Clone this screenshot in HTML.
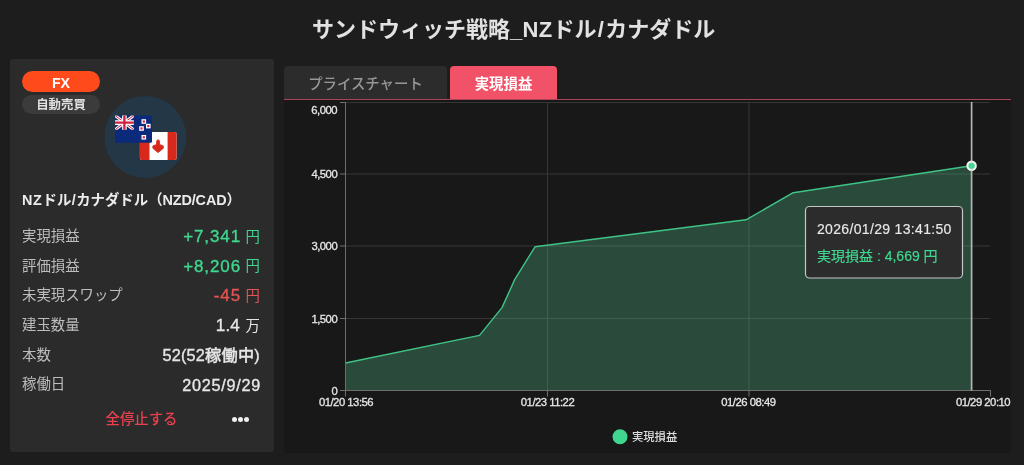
<!DOCTYPE html>
<html lang="ja">
<head>
<meta charset="utf-8">
<title>サンドウィッチ戦略_NZドル/カナダドル</title>
<style>
*{box-sizing:border-box;margin:0;padding:0}
html,body{width:1024px;height:465px;overflow:hidden;background:#1d1d1d}
body{position:relative;font-family:"Liberation Sans","Noto Sans CJK JP",sans-serif;color:#e0e0e0}
.abs{position:absolute;white-space:nowrap}
h1{position:absolute;left:312px;top:12px;white-space:nowrap;font-size:22px;line-height:36px;font-weight:700;color:#e2e2e2}
h1 span{letter-spacing:.3px}h1 span.s{padding:0 1.2px}
.cardbg{position:absolute;left:9.6px;top:58.6px;width:264.3px;height:393.6px;background:#2b2b2b;border-radius:3px}
.card{position:absolute;left:10px;top:59px;width:264px;height:393px}
.pill{position:absolute;left:12px;width:78px;border-radius:11px;text-align:center;font-weight:700;color:#fff}
.pill.fx{top:12px;height:21px;background:#ff4b1c;font-size:14.2px;line-height:24px}
.pill.auto{top:36px;height:19px;background:#3b3b3b;font-size:12.4px;line-height:21px;color:#e0e0e0}
.name{position:absolute;left:12px;top:131px;font-size:14.4px;line-height:20px;font-weight:700;color:#ececec;white-space:nowrap}
.row{position:absolute;left:12px;width:240px;height:29px}
.row .l{position:absolute;left:0;top:0;font-size:14.4px;line-height:29px;color:#bdbdbd;white-space:nowrap}
.row .v{position:absolute;right:2px;top:.5px;font-size:16.2px;line-height:29px;font-weight:500;color:#e6e6e6;white-space:nowrap;-webkit-text-stroke:.35px currentColor;letter-spacing:.25px}
.row .v b{font-size:17px;font-weight:500;letter-spacing:.9px;position:relative;top:-.5px}
.row .v i{font-style:normal;font-size:14.4px;font-weight:400;margin-left:4.6px;-webkit-text-stroke:0;letter-spacing:0;position:relative;top:-1px}
.g{color:#3fd78f!important}.r{color:#e25555!important}
.stop{position:absolute;left:95.5px;top:347.5px;font-size:14.4px;line-height:24px;font-weight:500;color:#e8404f;white-space:nowrap}
.dots{position:absolute;left:221.5px;top:357.5px;width:18px;height:5px}
.dots span{position:absolute;top:0;width:5px;height:5px;border-radius:50%;background:#f0f0f0}
.tab{position:absolute;top:65.5px;height:33.5px;border-radius:4px 4px 0 0;text-align:center;font-size:14.4px;line-height:36px}
.tab.t1{left:284px;width:163px;background:#2c2c2c;color:#979797;font-weight:500}
.tab.t2{left:450px;width:107px;background:#f25268;color:#fff;font-weight:700}
.tabline{position:absolute;left:284px;top:98.5px;width:727px;height:1.9px;background:#aa4556}
.chart{position:absolute;left:284px;top:100px;width:727px;height:352.5px;background:#181818}
svg{position:absolute;left:0;top:0}
svg text{font-family:"Liberation Sans","Noto Sans CJK JP",sans-serif}
</style>
</head>
<body>
<h1>サンドウィッチ戦略<span>_NZ</span>ドル<span class="s">/</span>カナダドル</h1>

<div class="cardbg"></div>
<div class="card">
  <div class="pill fx">FX</div>
  <div class="pill auto">自動売買</div>
  <div class="name"><span style="letter-spacing:.7px">NZ</span>ドル<span style="padding:0 .4px">/</span>カナダドル（<span style="letter-spacing:-.12px">NZD/CAD</span>）</div>
  <div class="row" style="top:163.4px"><span class="l">実現損益</span><span class="v g"><b>+7,341</b><i>円</i></span></div>
  <div class="row" style="top:192.8px"><span class="l">評価損益</span><span class="v g"><b>+8,206</b><i>円</i></span></div>
  <div class="row" style="top:222.2px"><span class="l">未実現スワップ</span><span class="v r"><b>-45</b><i>円</i></span></div>
  <div class="row" style="top:252px"><span class="l">建玉数量</span><span class="v"><b style="letter-spacing:.2px">1.4</b><i style="margin-left:5.6px">万</i></span></div>
  <div class="row" style="top:281.5px"><span class="l">本数</span><span class="v" style="top:.5px">52(52稼働中)</span></div>
  <div class="row" style="top:311px"><span class="l">稼働日</span><span class="v" style="top:.8px;letter-spacing:.75px;right:1px">2025/9/29</span></div>
  <div class="stop">全停止する</div>
  <div class="dots"><span style="left:0"></span><span style="left:6.25px"></span><span style="left:12.5px"></span></div>
</div>

<div class="tab t1">プライスチャート</div>
<div class="tab t2">実現損益</div>
<div class="chart"></div>
<div class="tabline"></div>

<svg width="1024" height="465" viewBox="0 0 1024 465">
  <!-- flags -->
  <circle cx="145.3" cy="137" r="41" fill="#233746"/>
  <g id="ca" transform="translate(.4 .3)">
    <rect x="139.5" y="131.6" width="36.7" height="28" rx="2" fill="#fff"/>
    <path d="M141.5 131.6h7.6v28h-7.6a2 2 0 0 1-2-2v-24a2 2 0 0 1 2-2z" fill="#d9291c"/>
    <path d="M167.2 131.6h7a2 2 0 0 1 2 2v24a2 2 0 0 1-2 2h-7z" fill="#d9291c"/>
    <path d="M157.7 139.6c.9 0 1.5.7 1.500 1.700v3l3.700 1.300v2.400l-5.200 4.300l-5.200-4.300v-2.400l3.700-1.300v-3c0-1 .6-1.700 1.500-1.700z" fill="#d9291c" stroke="#d9291c" stroke-width=".9" stroke-linejoin="round"/>
  </g>
  <g id="nz">
    <clipPath id="uj"><rect x="115" y="115.4" width="18.8" height="14.4"/></clipPath>
    <rect x="115" y="115.4" width="37" height="27.4" rx="1.5" fill="#0b2a7c"/>
    <g clip-path="url(#uj)">
      <path d="M115 115.4l18.8 14.4M133.8 115.4l-18.8 14.4" stroke="#fff" stroke-width="3"/>
      <path d="M115 115.4l18.8 14.4M133.8 115.4l-18.8 14.4" stroke="#d2203f" stroke-width="1"/>
      <path d="M124.4 115v15M115 122.6h19" stroke="#fff" stroke-width="4.6"/>
      <path d="M124.4 115v15M115 122.6h19" stroke="#d2203f" stroke-width="2.4"/>
    </g>
    <g fill="#fff">
      <rect x="141.5" y="119.2" width="4.6" height="4.6"/><rect x="146" y="123.8" width="4.6" height="4.6"/>
      <rect x="139.2" y="126.2" width="4.6" height="4.6"/><rect x="141.5" y="135" width="4.6" height="4.6"/>
    </g>
    <g fill="#d42a45">
      <rect x="142.7" y="120.4" width="2.2" height="2.2"/><rect x="147.2" y="125" width="2.2" height="2.2"/>
      <rect x="140.4" y="127.4" width="2.2" height="2.2"/><rect x="142.7" y="136.2" width="2.2" height="2.2"/>
    </g>
  </g>

  <!-- chart -->
  <g stroke="#363636" stroke-width="1" fill="none">
    <path d="M345 102.5H990M345 174H990M345 246H990M345 318.5H990"/>
    <path d="M547.5 102V390M749 102V390"/>
  </g>
  <path d="M345.5 363L479.5 335.4L502 307.6L514.8 279.4L535 246.8L746 219.8L793.2 192.7L971.5 165.7V390.5H345.5Z" fill="#57c290" fill-opacity="0.3"/>
  <path d="M345.5 363L479.5 335.4L502 307.6L514.8 279.4L535 246.8L746 219.8L793.2 192.7L971.5 165.7" fill="none" stroke="#3fc487" stroke-width="1.4" stroke-linejoin="round"/>
  <g stroke="#6f6f6f" stroke-width="1" fill="none">
    <path d="M345.5 102V396.5M340 390.5H990.5"/>
    <path d="M340 102.5H345M340 174H345M340 246H345M340 318.5H345"/>
    <path d="M547.5 390V396.5M749 390V396.5M990.5 390V396.5"/>
  </g>
  <path d="M971.6 102V390.5" stroke="#b4b4b4" stroke-width="1.7"/>
  <circle cx="971.6" cy="165.8" r="4.2" fill="#3fd78f" stroke="#f4f4f4" stroke-width="2.1"/>
  <path d="M971.6 161V171" stroke="#b4b4b4" stroke-width="1.2" stroke-opacity=".45"/>
  <g font-size="11.3" fill="#e6e6e6" stroke="#e6e6e6" stroke-width=".3" letter-spacing="-.5" text-anchor="end">
    <text x="337" y="113.6">6,000</text>
    <text x="337.2" y="178">4,500</text>
    <text x="337.2" y="250">3,000</text>
    <text x="337.2" y="322.5">1,500</text>
    <text x="337.2" y="394.5">0</text>
  </g>
  <g font-size="11.3" fill="#e6e6e6" stroke="#e6e6e6" stroke-width=".3" letter-spacing="-.5" text-anchor="middle">
    <text x="346" y="406.3">01/20 13:56</text>
    <text x="547.5" y="406.3">01/23 11:22</text>
    <text x="748.4" y="406.3">01/26 08:49</text>
    <text x="983" y="406.3">01/29 20:10</text>
  </g>
  <circle cx="620" cy="436.7" r="7.5" fill="#3fd78f"/>
  <text x="632" y="440.8" font-size="11.3" font-weight="500" fill="#dedede">実現損益</text>

  <!-- tooltip -->
  <rect x="805.5" y="206.5" width="157" height="71.5" rx="4" fill="#2c2c2c" stroke="#c6c6c6" stroke-width="1.2"/>
  <text x="817" y="234.3" font-size="14" fill="#e8e8e8" letter-spacing=".33" stroke="#e8e8e8" stroke-width=".15">2026/01/29 13:41:50</text>
  <text x="817" y="260.8" font-size="14" fill="#3fd78f" stroke="#3fd78f" stroke-width=".2">実現損益 : 4,669 円</text>
</svg>
</body>
</html>
